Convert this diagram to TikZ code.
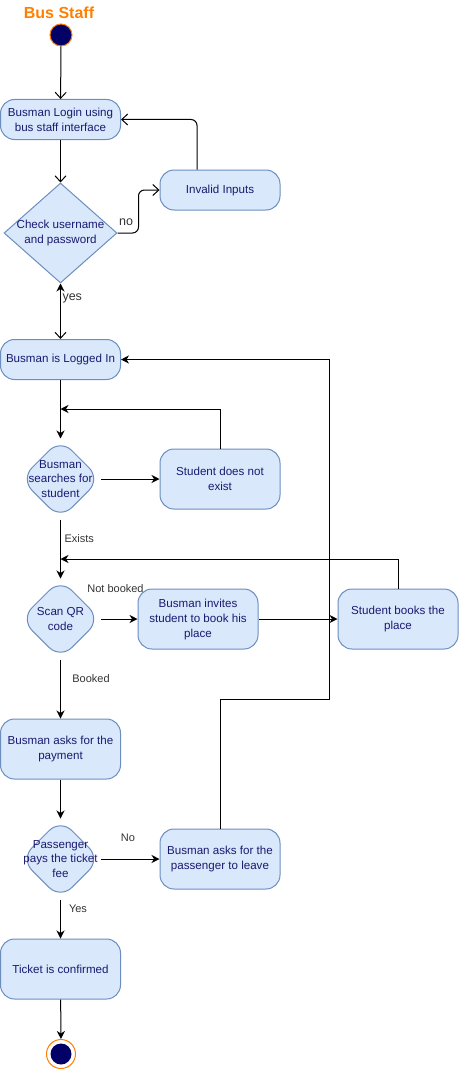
\documentclass[tikz,border=0pt]{standalone}
\usepackage{fontspec}
\setmainfont{Liberation Sans}
\usetikzlibrary{shapes.geometric,arrows.meta,calc}
\definecolor{boxfill}{HTML}{DAE8FC}
\definecolor{boxline}{HTML}{6C8EBF}
\definecolor{boxtext}{HTML}{1A1A70}
\definecolor{navy}{HTML}{000066}
\definecolor{orangeline}{HTML}{FF8000}
\definecolor{lbltext}{HTML}{333333}
\begin{document}
\begin{tikzpicture}[x=1pt,y=-1pt,
  every path/.style={line width=1pt},
  box/.style={draw=boxline, fill=boxfill, rounded corners=14pt, minimum width=120pt,
    align=center, text=boxtext, font=\fontsize{11.6}{15}\selectfont, inner sep=0},
  boxa/.style={box, minimum height=40pt},
  boxb/.style={box, minimum height=60pt},
  dia/.style={diamond, draw=boxline, fill=boxfill, inner sep=0, minimum width=80pt,
    minimum height=80pt, rounded corners=16pt},
  dtext/.style={align=center, text=boxtext, font=\fontsize{11.6}{14.5}\selectfont, inner sep=0},
  lbl/.style={text=lbltext, font=\fontsize{11}{13}\selectfont, inner sep=1pt},
  lblb/.style={text=lbltext, font=\fontsize{12.5}{14}\selectfont, inner sep=1pt},
  openarr/.style={-{Straight Barb[length=6pt,width=11pt]}},
  fillarr/.style={-{Stealth[length=8pt,width=8pt,inset=2.5pt]}},
  ]
\useasboundingbox (0,0) rectangle (459,1070);

\node[text=orangeline, font=\fontsize{16}{18}\selectfont\bfseries] (title) at (59,13) {Bus Staff};
\node[circle, draw=orangeline, fill=navy, minimum size=22pt, inner sep=0] (start) at (61,35) {};

\node[boxa] (login) at (60.5,119.5) {Busman Login using\\bus staff interface};
\node[diamond, draw=boxline, fill=boxfill, inner sep=0, minimum width=113pt, minimum height=100pt] (chk) at (60.5,233) {};
\node[dtext] (chkt) at (chk) {Check username\\and password};
\node[boxa] (inv) at (220,190) {Invalid Inputs};

\node[boxa] (logged) at (60.5,359.5) {Busman is Logged In};
\node[dia] (search) at (60.5,479) {};
\node[dtext] (searcht) at (search) {Busman\\searches for\\student};
\node[boxb] (notex) at (220,479) {Student does not\\exist};

\node[dia] (scan) at (60.5,619) {};
\node[dtext] (scant) at (scan) {Scan QR\\code};
\node[boxb] (invite) at (198,619) {Busman invites\\student to book his\\place};
\node[boxb] (books) at (398,619) {Student books the\\place};

\node[boxb] (pay) at (60.5,749) {Busman asks for the\\payment};
\node[dia] (fee) at (60.5,859) {};
\node[dtext] (feet) at (fee) {Passenger\\pays the ticket\\fee};
\node[boxb] (leave) at (220,859) {Busman asks for the\\passenger to leave};

\node[boxb] (conf) at (60.5,969) {Ticket is confirmed};
\node[circle, draw=orangeline, fill=white, minimum size=29pt, inner sep=0] (end) at (61,1054) {};
\node[circle, fill=navy, minimum size=21pt, inner sep=0] (endin) at (end) {};

\coordinate (m1) at (60.5,409);
\coordinate (m2) at (60.5,559);
\coordinate (c1) at (329,699);

% connectors
\draw[openarr] (start) -- (login);
\draw[openarr] (login) -- (chk.north);
\draw[openarr, rounded corners=6pt] (chk.east) -- ++(21,0) |- (inv.west);
\node[lblb] (lno) at (126,222) {no};
\draw[openarr, rounded corners=6pt] ([xshift=-23pt]inv.north) |- (login.east);
\draw[{Straight Barb[length=6pt,width=11pt]}-{Stealth[length=8pt,width=8pt,inset=2.5pt]}] (logged.north) -- (chk.south);
\node[lblb, anchor=west] (lyes) at (61,298) {yes};

\draw[fillarr] (logged) -- (search.north);
\draw[fillarr] (search.east) -- (notex.west);
\draw[fillarr] (notex.north) |- (m1);
\draw[fillarr] (search.south) -- (scan.north);
\node[lbl, anchor=west] (lex) at (63,539) {Exists};
\draw[fillarr] (books.north) |- (m2);
\draw[fillarr] (scan.east) -- (invite.west);
\node[lbl] (lnb) at (115.5,589) {Not booked};
\draw[fillarr] (invite.east) -- (books.west);
\draw[fillarr] (scan.south) -- (pay.north);
\node[lbl] (lbk) at (91,679) {Booked};
\draw[fillarr] (pay) -- (fee.north);
\draw[fillarr] (fee.east) -- (leave.west);
\node[lbl] (lno2) at (128,838) {No};
\draw[fillarr] (leave.north) |- (c1) |- (logged.east);
\draw[fillarr] (fee.south) -- (conf.north);
\node[lbl] (lyes2) at (78,909) {Yes};
\draw[fillarr] (conf) -- (end);
\end{tikzpicture}
\end{document}
